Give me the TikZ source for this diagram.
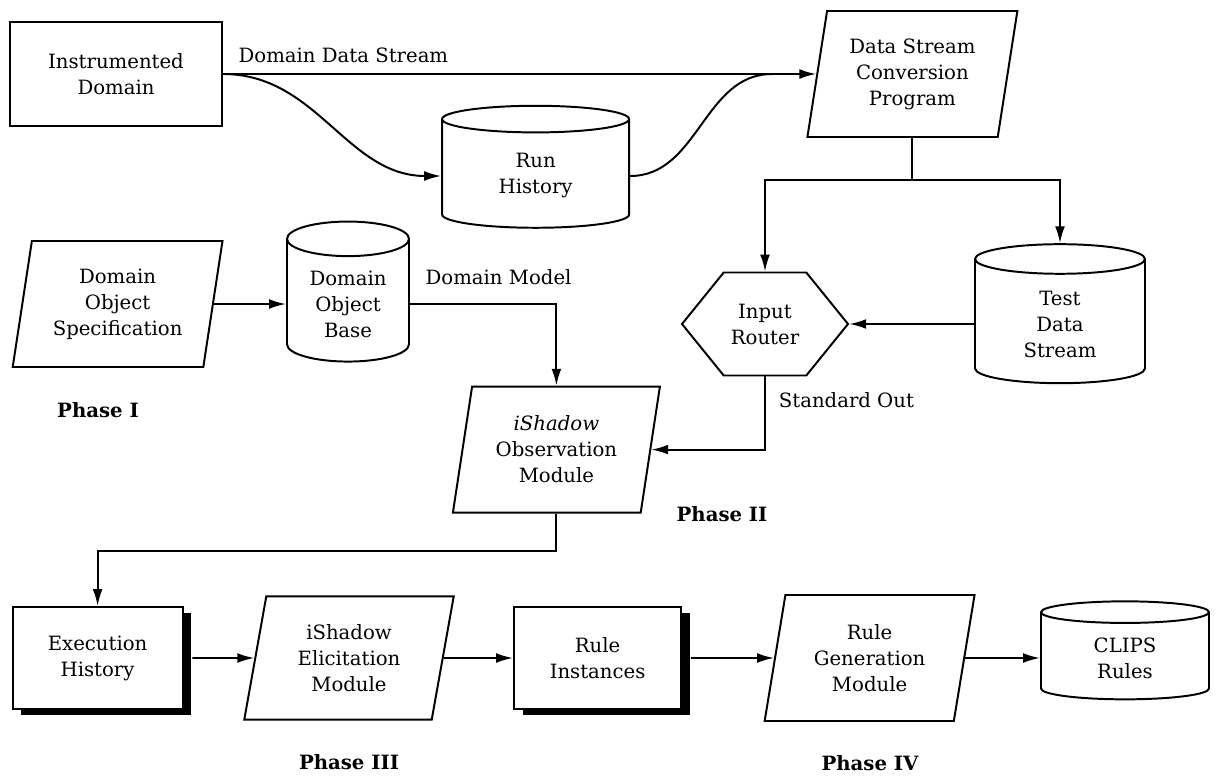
\documentclass[tikz,border=0pt]{standalone}
\usepackage{fontspec}
\setmainfont{DejaVu Serif}
\usepackage{tikz}
\usetikzlibrary{shapes,arrows,positioning,calc,shadows,arrows.meta}

\begin{document}
\begin{tikzpicture}[
    font=\fontsize{14}{18.5}\selectfont,
    line width=1.4pt,
    >={Latex[length=12pt,width=7pt]},
    box/.style={draw, rectangle, align=center, minimum width=5.3cm, minimum height=2.6cm},
    shadowbox/.style={draw, rectangle, fill=white, align=center, minimum width=4.25cm, minimum height=2.55cm,
        drop shadow={shadow xshift=.22cm, shadow yshift=-.15cm, fill=black, opacity=1}},
    io/.style={draw, trapezium, trapezium left angle=79, trapezium right angle=101, trapezium stretches=true,
        align=center, minimum width=5.25cm, minimum height=3.15cm},
    store/.style={draw, cylinder, shape border rotate=90, aspect=#1, align=center},
    store/.default=0.3,
    router/.style={draw, signal, signal to=west and east, signal pointer angle=102, align=center,
        minimum width=4.15cm, minimum height=2.575cm},
    phase/.style={font=\fontsize{14}{18.5}\selectfont\bfseries},
]
    \useasboundingbox (0,0) rectangle (30.45,-19.475);

    % Data collection
    \node[box] (inst) at (2.9,-1.85) {Instrumented\\Domain};
    \node[io] (prog) at (22.81,-1.85) {Data Stream\\Conversion\\Program};
    \node[store=0.32, minimum width=4.675cm, minimum height=3.05cm] (rh) at (13.39,-4.4) {Run\\History};
    \coordinate (merge) at (19.3,-1.85);

    \draw[->] (inst.east) -- (prog.west)
        node[pos=0, anchor=south west, xshift=0.25cm, yshift=0.15cm] {Domain Data Stream};
    \draw[->] (inst.east) to[out=0, in=180] (rh.west);
    \draw (rh.east) to[out=0, in=180] (merge);

    % Phase I
    \node[io] (dos) at (2.94,-7.6) {Domain\\Object\\Specification};
    \node[store=0.4, minimum width=3.05cm, minimum height=3.5cm] (dob) at (8.7,-7.6) {Domain\\Object\\Base};
    \node[phase] (p1) at (2.45,-10.25) {Phase I};

    \draw[->] (dos.east) -- (dob.west);

    % Phase II
    \node[router] (router) at (19.125,-8.1) {Input\\Router};
    \node[store=0.36, minimum width=4.25cm, minimum height=3.475cm] (test) at (26.5,-8.1) {Test\\Data\\Stream};
    \node[io, minimum width=5.18cm] (obs) at (13.91,-11.24) {\textit{iShadow}\\Observation\\Module};
    \node[phase] (p2) at (18.05,-12.85) {Phase II};
    \coordinate (split) at ($(prog.south)+(0,-1.05)$);

    \draw (prog.south) -- (split);
    \draw[->] (split) -| (router.north);
    \draw[->] (split) -| (test.north);
    \draw[->] (test.west) -- (router.east);
    \draw[->] (router.south) |- (obs.east);
    \node[anchor=west] (stdout) at (19.33,-10) {Standard Out};
    \draw[->] (dob.east) -| (obs.north);
    \node[anchor=west] (model) at (10.5,-6.93) {Domain Model};

    % Phase III and IV
    \node[shadowbox] (exec) at (2.44,-16.45) {Execution\\History};
    \node[io, minimum height=3.08cm] (elic) at (8.725,-16.45) {iShadow\\Elicitation\\Module};
    \node[shadowbox, minimum width=4.18cm] (rinst) at (14.94,-16.45) {Rule\\Instances};
    \node[io] (rgm) at (21.74,-16.45) {Rule\\Generation\\Module};
    \node[store=0.3, minimum width=4.2cm, minimum height=2.45cm] (clips) at (28.125,-16.45) {CLIPS\\Rules};
    \node[phase] (p3) at (8.725,-19.05) {Phase III};
    \node[phase] (p4) at (21.75,-19.075) {Phase IV};

    \draw[->] (obs.south) -- ++(0,-0.925) -| (exec.north);
    \draw[->, shorten <=0.22cm] (exec.east) -- (elic.west);
    \draw[->] (elic.east) -- (rinst.west);
    \draw[->, shorten <=0.22cm] (rinst.east) -- (rgm.west);
    \draw[->] (rgm.east) -- (clips.west);
\end{tikzpicture}
\end{document}
